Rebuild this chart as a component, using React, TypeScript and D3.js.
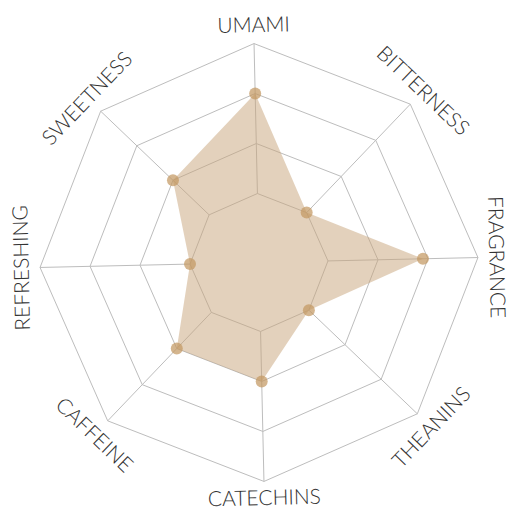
import React from "react";
import * as d3 from "d3";

const axes = ["UMAMI", "BITTERNESS", "FRAGRANCE", "THEANINS", "CATECHINS", "CAFFEINE", "REFRESHING", "SWEETNESS"];
const values = [3, 1, 2.9, 1, 2, 2, 1, 2];
const levels = [1, 2, 3, 4];

const W = 511;
const H = 510;
const cx = 259;
const cy = 262.5;
const rotation = -1.3; // degrees

export default function App() {
  const r = d3.scaleLinear().domain([0, 4]).range([19, 219]);
  const n = axes.length;
  const angle = (i: number) => ((i * 360) / n + rotation - 90) * (Math.PI / 180);
  const pt = (i: number, v: number): [number, number] => [
    cx + r(v) * Math.cos(angle(i)),
    cy + r(v) * Math.sin(angle(i)),
  ];

  const ringPath = (lv: number) =>
    d3.line()(axes.map((_, i) => pt(i, lv)).concat([pt(0, lv)])) || "";

  const areaPath = d3.line().curve(d3.curveLinearClosed)(values.map((v, i) => pt(i, v))) || "";

  return (
    <svg width={W} height={H} style={{ position: "absolute", left: 0, top: 0 }}>
      <g>
        {levels.map((lv) => (
          <path key={lv} d={ringPath(lv)} fill="none" stroke="#bdbdbd" strokeWidth={1} />
        ))}
        {axes.map((_, i) => {
          const [x1, y1] = pt(i, 1);
          const [x2, y2] = pt(i, 4);
          return <line key={i} x1={x1} y1={y1} x2={x2} y2={y2} stroke="#bdbdbd" strokeWidth={1} />;
        })}
      </g>
      <path d={areaPath} fill="#c8a47a" fillOpacity={0.5} stroke="none" />
      {values.map((v, i) => {
        const [x, y] = pt(i, v);
        return <circle key={i} cx={x} cy={y} r={6} fill="#c39862" fillOpacity={0.72} />;
      })}
      {axes.map((name, i) => {
        const a = angle(i);
        const labelR = i === 4 ? 235 : 238;
        const x = cx + labelR * Math.cos(a);
        const y = cy + labelR * Math.sin(a);
        const deg = (i * 360) / n;
        let rot = deg;
        if (deg > 90 && deg < 270) rot = deg - 180;
        else if (deg >= 270) rot = deg - 360;
        rot += rotation;
        return (
          <text
            key={name}
            x={0}
            y={0}
            transform={`translate(${x},${y}) rotate(${rot})`}
            textAnchor="middle"
            dy="0.36em"
            fontFamily="Lato"
            fontWeight={300}
            fontSize={21}
            fill="#333"
          >
            {name}
          </text>
        );
      })}
    </svg>
  );
}
